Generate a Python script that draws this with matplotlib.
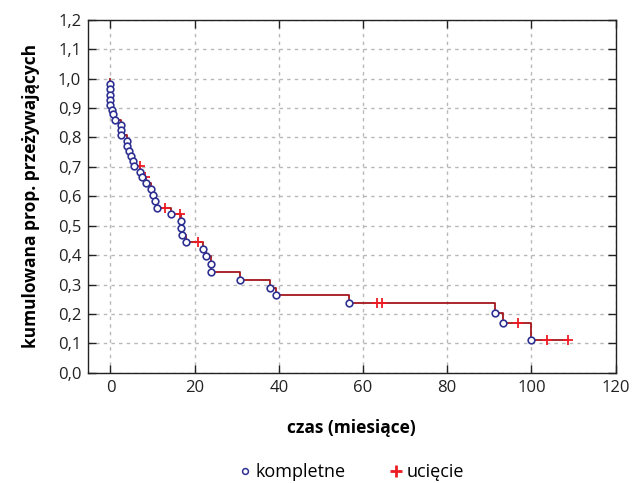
import matplotlib
matplotlib.use("Agg")
import matplotlib.pyplot as plt
from matplotlib.lines import Line2D

# event points (circles): time in months, cumulative survival proportion
event_times = [0, 0, 0, 0, 0, 0.3, 0.5, 1.2, 2.6, 2.6, 2.6, 3.9, 4.0, 4.3, 4.8,
               5.3, 5.5, 7.0, 7.5, 8.4, 9.6, 10.2, 10.6, 11.0, 14.5, 16.7, 16.8,
               17.0, 18.0, 22.0, 22.7, 23.8, 23.8, 30.8, 38.0, 39.3, 56.7, 91.3,
               93.2, 100.0]
event_surv = [0.983, 0.965, 0.946, 0.928, 0.912, 0.895, 0.879, 0.861, 0.844,
              0.826, 0.807, 0.789, 0.772, 0.754, 0.737, 0.720, 0.702, 0.684,
              0.667, 0.646, 0.625, 0.605, 0.585, 0.562, 0.539, 0.516, 0.492,
              0.469, 0.446, 0.421, 0.396, 0.370, 0.344, 0.316, 0.290, 0.264,
              0.237, 0.204, 0.170, 0.113]

# censored points (plus signs)
censor_times = [7.0, 8.2, 13.0, 16.6, 20.9, 63.4, 64.6, 96.8, 103.8, 108.8]
censor_surv = [0.702, 0.667, 0.562, 0.539, 0.446, 0.237, 0.237, 0.170, 0.113, 0.113]

x_ticks = [0, 20, 40, 60, 80, 100, 120]
y_ticks = [i / 10 for i in range(13)]
y_tick_labels = [f"{v:.1f}".replace(".", ",") for v in y_ticks]

LINE_COLOR = "#a3171b"
CIRCLE_COLOR = "#2e3192"
PLUS_COLOR = "#ed1c24"

plt.rcParams["font.family"] = ["Open Sans", "DejaVu Sans"]

fig = plt.figure(figsize=(6.34, 4.83), dpi=100)
ax = fig.add_axes([0.139, 0.228, 0.832, 0.731])

# step curve through all points, starting at 1.0
pts = sorted(zip(event_times + censor_times, event_surv + censor_surv),
             key=lambda p: (p[0], -p[1]))
curve_t = [0] + [p[0] for p in pts]
curve_s = [1.0] + [p[1] for p in pts]
ax.step(curve_t, curve_s, where="post", color=LINE_COLOR, lw=1.3, zorder=3)

ax.plot(censor_times, censor_surv, ls="none", marker="+", ms=7, mew=1.3,
        color=PLUS_COLOR, zorder=4)
ax.plot(event_times, event_surv, ls="none", marker="o", ms=4.8, mew=1.2,
        mfc="white", mec=CIRCLE_COLOR, zorder=5)

ax.set_xlim(-5.3, 120)
ax.set_ylim(0, 1.2)
ax.set_xticks(x_ticks)
ax.set_yticks(y_ticks)
ax.set_yticklabels(y_tick_labels)
ax.tick_params(direction="in", length=6, width=1, top=True, right=True,
               labelsize=12, colors="#222222", pad=5)
ax.grid(True, color="#b8b8b8", ls=(0, (2.5, 3)), lw=1)
ax.set_axisbelow(True)
for sp in ax.spines.values():
    sp.set_color("#222222")
    sp.set_linewidth(1)

ax.set_xlabel("czas (miesiące)", fontsize=12.5, fontweight="bold", labelpad=17)
ax.set_ylabel("kumulowana prop. przeżywających", fontsize=12.5,
              fontweight="bold", labelpad=13)

handles = [
    Line2D([], [], ls="none", marker="o", ms=4.2, mew=1.1, mfc="white",
           mec=CIRCLE_COLOR, label="kompletne"),
    Line2D([], [], ls="none", marker="+", ms=8, mew=2, color=PLUS_COLOR,
           label="ucięcie"),
]
fig.legend(handles=handles, loc="center", bbox_to_anchor=(0.555, 0.022),
           ncol=2, frameon=False, fontsize=13, handlelength=0.6,
           handletextpad=0.3, columnspacing=2.5)

fig.savefig("out.png", dpi=100)
